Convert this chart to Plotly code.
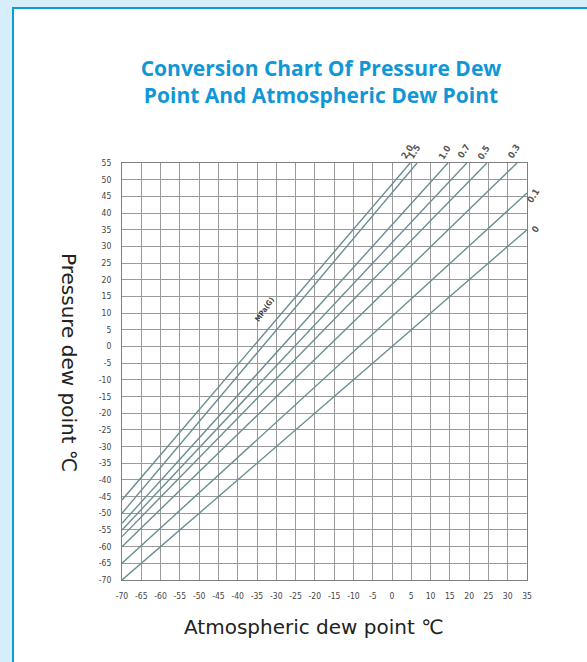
import plotly.graph_objects as go

# Pressure levels (MPa gauge) and read-off line endpoints
pressure_labels = ["2.0", "1.5", "1.0", "0.7", "0.5", "0.3", "0.1", "0"]
atm_start = [-70, -70, -70, -70, -70, -70, -70, -70]
pdp_start = [-46, -50, -53, -55, -57, -60, -65, -70]
atm_end = [4.7, 6.5, 14.5, 19.4, 24.6, 32.4, 35, 35]
pdp_end = [55, 55, 55, 55, 55, 55, 46, 35]

x_ticks = list(range(-70, 36, 5))
y_ticks = list(range(-70, 56, 5))

X_RANGE = [-70, 35]
Y_RANGE = [-70, 55]

W, H = 587, 662
L, R, T, B = 122, 527, 163, 580
pw, ph = R - L, B - T

def px(x):
    return (x - L) / pw

def py(y):
    return (B - y) / ph

def dx(v):  # data x -> paper x
    return (v - X_RANGE[0]) / (X_RANGE[1] - X_RANGE[0])

def dy(v):  # data y -> paper y
    return (v - Y_RANGE[0]) / (Y_RANGE[1] - Y_RANGE[0])

fig = go.Figure()

line_color = "#6a8e95"
for i, lab in enumerate(pressure_labels):
    fig.add_trace(go.Scatter(
        x=[atm_start[i], atm_end[i]], y=[pdp_start[i], pdp_end[i]],
        mode="lines", line=dict(color=line_color, width=1.4),
        showlegend=False, hoverinfo="skip"))
    if pdp_end[i] >= Y_RANGE[1]:
        ax, ay = dx(atm_end[i]) + 8 / pw, dy(pdp_end[i]) + 23 / ph
    else:
        ax, ay = dx(atm_end[i]) + 17 / pw, dy(pdp_end[i]) + 9 / ph
    fig.add_annotation(xref="paper", yref="paper", x=ax, y=ay, text="<b>" + lab + "</b>",
                       showarrow=False, textangle=-58,
                       font=dict(size=9, color="#555", family="DejaVu Sans Condensed"))

fig.add_annotation(x=-33, y=11, text="<b>MPa(G)</b>", showarrow=False, textangle=-55,
                   font=dict(size=7.5, color="#444", family="DejaVu Sans Condensed"))

shapes = [
    dict(type="rect", xref="paper", yref="paper", layer="below",
         x0=px(13), x1=px(W + 20), y0=py(H + 20), y1=py(8),
         fillcolor="white", line=dict(color="#0a9bd8", width=2)),
]

fig.update_layout(
    width=W, height=H,
    margin=dict(l=L, r=W - R, t=T, b=H - B),
    paper_bgcolor="#d6eefa",
    plot_bgcolor="rgba(0,0,0,0)",
    shapes=shapes,
    title=dict(text="<b>Conversion Chart Of Pressure Dew<br>Point And Atmospheric Dew Point</b>",
               x=321 / W, xanchor="center", y=1 - 76 / H, yanchor="middle",
               font=dict(family="Open Sans", size=21, color="#1197d6")),
    xaxis=dict(range=X_RANGE, tickvals=x_ticks, ticktext=[str(v) for v in x_ticks],
               showgrid=True, gridcolor="#9a9a9a", gridwidth=1, zeroline=False,
               showline=True, linecolor="#808080", mirror=True, ticks="",
               tickfont=dict(size=8.5, color="#444", family="DejaVu Sans Condensed"),
               ticklabelstandoff=8),
    yaxis=dict(range=Y_RANGE, tickvals=y_ticks, ticktext=[str(v) for v in y_ticks],
               showgrid=True, gridcolor="#9a9a9a", gridwidth=1, zeroline=False,
               showline=True, linecolor="#808080", mirror=True, ticks="",
               tickfont=dict(size=8.5, color="#444", family="DejaVu Sans Condensed"),
               ticklabelstandoff=8),
)

fig.add_annotation(xref="paper", yref="paper", x=px(55), y=py(362),
                   text="Pressure dew point ℃", showarrow=False, textangle=90,
                   font=dict(family="DejaVu Sans", size=20, color="#222"))
fig.add_annotation(xref="paper", yref="paper", x=px(314), y=py(641),
                   text="Atmospheric dew point ℃", showarrow=False,
                   font=dict(family="DejaVu Sans", size=20, color="#222"))

fig.write_html("out.html", config={"displayModeBar": False},
               post_script="document.body.style.margin='0';")
